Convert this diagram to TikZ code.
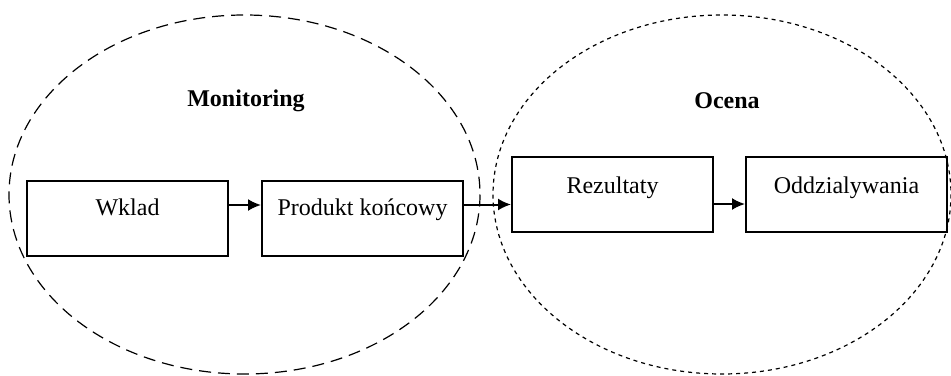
\documentclass[tikz,border=0pt]{standalone}
\usepackage{fontspec}
\setmainfont{Liberation Serif}
\usepackage{tikz}
\usetikzlibrary{arrows.meta}

\begin{document}
\begin{tikzpicture}
            [x=0.5pt,y=-0.5pt,auto=left,every node/.style={rectangle,draw,line width=1pt,minimum width=100.5pt,minimum height=37.5pt,text height=8pt,font=\fontsize{12}{14}\selectfont}]
            \useasboundingbox (0,0) rectangle (951,375);
            
            % monitoring and evaluation areas
            \draw[line width=0.6pt,dash pattern=on 6pt off 3.5pt] (244.5,194.5) ellipse [x radius=235.5,y radius=179.5];
            \draw[line width=0.6pt,dash pattern=on 2pt off 2pt] (722,194.5) ellipse [x radius=229,y radius=179.5];
            \node[draw=none,font=\fontsize{12}{14}\selectfont\bfseries] (M) at (246,101) {Monitoring};
            \node[draw=none,font=\fontsize{12}{14}\selectfont\bfseries] (E) at (727,101) {Ocena};
            
            % boxes
            \node[text depth=11.5pt] (M1) at (127.5,218.5) {Wklad};
            \node[text depth=11.5pt] (M2) at (362.5,218.5) {Produkt końcowy};
            \node[text depth=9.5pt] (E1) at (612.5,194.5) {Rezultaty};
            \node[text depth=9.5pt] (E2) at (846.5,194.5) {Oddzialywania};
            
            % arrows
            \draw[line width=1pt,-{Latex[length=6.5pt,width=6pt]}] ([yshift=6.75pt]M1.east) -- ([yshift=6.75pt]M2.west);
            \draw[line width=1pt,-{Latex[length=6.5pt,width=6pt]}] ([yshift=7pt]M2.east) -- ([yshift=-5pt]E1.west);
            \draw[line width=1pt,-{Latex[length=6.5pt,width=6pt]}] ([yshift=-4.75pt]E1.east) -- ([yshift=-4.75pt]E2.west);
        \end{tikzpicture}
\end{document}
